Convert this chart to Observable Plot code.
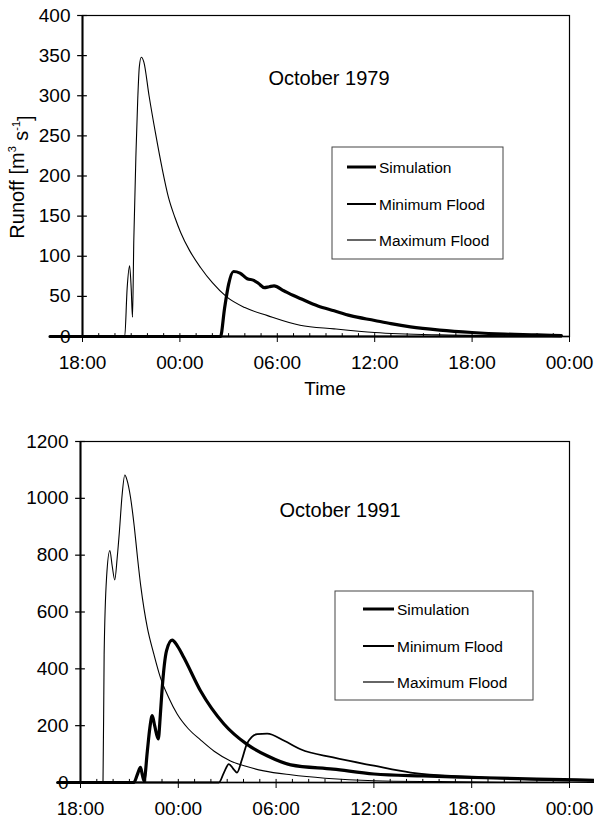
<!DOCTYPE html>
<html>
<head>
<meta charset="utf-8">
<script src="https://cdn.jsdelivr.net/npm/d3@7"></script>
<script src="https://cdn.jsdelivr.net/npm/@observablehq/plot@0.6"></script>
<style>
  html, body { margin: 0; padding: 0; background: #fff; }
  #wrap { position: relative; width: 594px; height: 821px; background: #fff; overflow: hidden; }
</style>
</head>
<body>
<div id="wrap"></div>
<script>
// ---------- data (hours after 18:00 of the first day) ----------
const xTickHours = [0, 6, 12, 18, 24, 30];
const xTickLabels = ["18:00", "00:00", "06:00", "12:00", "18:00", "00:00"];
const minorHours = d3.range(0, 31);

const seriesNames = ["Simulation", "Minimum Flood", "Maximum Flood"];

// October 1979
const yTicks79 = [0, 50, 100, 150, 200, 250, 300, 350, 400];
const sim79T = [-2, 8.5, 8.75, 9.0, 9.3, 9.7, 10.15, 10.55, 10.85, 11.2, 11.5, 11.8, 12.4, 13.0, 13.45, 14.5, 15.5, 16.5, 18, 19, 20.2, 22, 24, 26, 28, 29.5];
const sim79V = [0, 0, 35, 65, 81, 79, 72, 70, 66, 61, 62, 63, 57, 51, 47, 38, 32, 26, 20, 16, 12, 8, 5, 3, 2, 1];
const min79T = [-2, 6, 12, 18, 24, 29.5];
const min79V = [0, 0, 0, 0, 0, 0];
const max79T = [-2, 2.6, 2.75, 2.9, 3.0, 3.08, 3.16, 3.3, 3.4, 3.5, 3.62, 3.78, 4.1, 4.5, 4.9, 5.3, 5.7, 6.04, 6.6, 7.27, 8.0, 8.9, 10, 11.4, 13.4, 15.5, 18, 22, 26, 29.5];
const max79V = [0, 0, 60, 88, 60, 24, 120, 232, 294, 336, 348, 342, 300, 253, 210, 173, 148, 130, 107, 86, 67, 49, 36, 26, 14, 9.5, 5, 2, 1, 0.5];

// October 1991
const yTicks91 = [0, 200, 400, 600, 800, 1000, 1200];
const sim91T = [-1.4, 3.27, 3.5, 3.68, 3.8, 3.9, 4.1, 4.25, 4.4, 4.55, 4.77, 4.9, 5.0, 5.28, 5.62, 5.95, 6.34, 7.36, 8.8, 10.2, 11.45, 12.9, 15.5, 18, 21, 24, 28, 31.5];
const sim91V = [0, 0, 30, 53, 25, 6, 110, 190, 235, 200, 153, 240, 323, 464, 501, 480, 440, 323, 206, 135, 94, 62, 47, 30, 23, 18, 12, 8];
const min91T = [-1.4, 8.49, 8.8, 9.1, 9.35, 9.6, 9.9, 10.2, 10.5, 10.84, 11.45, 12.5, 13.5, 15.5, 18, 20.25, 24, 28, 31.5];
const min91V = [0, 0, 35, 65, 50, 35, 80, 135, 160, 170, 172, 147, 117, 88, 59, 35, 20, 10, 6];
const max91T = [-1.4, 1.38, 1.45, 1.6, 1.8, 1.95, 2.1, 2.25, 2.39, 2.55, 2.72, 2.85, 3.07, 3.3, 3.5, 3.7, 3.9, 4.1, 4.5, 4.9, 5.4, 5.93, 6.6, 7.36, 8.2, 9.2, 10.2, 11.25, 12.9, 15, 18, 22, 26, 31.5];
const max91V = [0, 0, 450, 722, 816, 760, 713, 790, 886, 1010, 1082, 1065, 1003, 900, 790, 690, 610, 545, 452, 370, 300, 241, 190, 150, 110, 76, 56, 41, 27, 15, 6, 3, 1, 0.5];

// ---------- drawing ----------
const FONT = "'Liberation Sans', Arial, Helvetica, sans-serif";
const widths = {"Simulation": 3.2, "Minimum Flood": 1.8, "Maximum Flood": 1.1};
const legendWidths = {"Simulation": 3, "Minimum Flood": 2, "Maximum Flood": 1.2};

function rows(ts, vs) { return ts.map((t, i) => ({t, v: vs[i]})); }

function chart(o) {
  const yMax = o.yTicks[o.yTicks.length - 1];
  const lineMarks = o.series.map(s =>
    Plot.line(s.data, {x: "t", y: "v", stroke: "black", strokeWidth: widths[s.name],
      curve: "monotone-x", strokeLinejoin: "round", strokeLinecap: "round"}));
  const svg = Plot.plot({
    width: 594, height: o.height,
    marginLeft: o.ml, marginRight: 25, marginTop: o.mt, marginBottom: o.mb,
    x: {type: "linear", domain: [0, 30]},
    y: {type: "linear", domain: [0, yMax]},
    style: {fontFamily: FONT, fontSize: "19px", color: "black", background: "transparent", overflow: "visible"},
    marks: [
      Plot.frame({stroke: "black", strokeWidth: 1.2}),
      Plot.axisY({ticks: o.yTicks, tickSize: 0, tickPadding: 12, label: null, tickFormat: d => String(d)}),
      Plot.ruleY(o.yTicks, {x1: -0.3, x2: 0.3, stroke: "black", strokeWidth: 1.2}),
      Plot.axisX({ticks: xTickHours, tickSize: 6, tickPadding: 13, label: null,
        tickFormat: d => xTickLabels[xTickHours.indexOf(d)]}),
      Plot.ruleX(minorHours, {y1: 0, y2: yMax * 0.009, stroke: "black", strokeWidth: 1}),
      Plot.ruleX([0], {stroke: "black", strokeWidth: 2}),
      Plot.ruleY([0], {stroke: "black", strokeWidth: 1.5}),
      ...lineMarks
    ]
  });
  svg.style.position = "absolute";
  svg.style.left = "0px";
  svg.style.top = o.top + "px";
  const g = d3.select(svg).append("g").attr("font-family", FONT).attr("fill", "black");
  g.append("text").attr("x", o.titleX).attr("y", o.titleY).attr("text-anchor", "middle")
    .attr("dominant-baseline", "central").attr("font-size", 20).text(o.title);
  // legend
  const L = o.legend;
  g.append("rect").attr("x", L.x).attr("y", L.y).attr("width", L.w).attr("height", L.h)
    .attr("fill", "white").attr("stroke", "#444").attr("stroke-width", 1);
  seriesNames.forEach((n, i) => {
    const yy = L.rows[i];
    g.append("line").attr("x1", L.lx1).attr("x2", L.lx2).attr("y1", yy).attr("y2", yy)
      .attr("stroke", "black").attr("stroke-width", legendWidths[n]);
    g.append("text").attr("x", L.tx).attr("y", yy).attr("text-anchor", "start")
      .attr("dominant-baseline", "central").attr("font-size", 15.5).text(n);
  });
  if (o.yLabel) {
    const t = g.append("text").attr("transform", `translate(17,${o.yLabelY}) rotate(-90)`)
      .attr("text-anchor", "middle").attr("dominant-baseline", "central").attr("font-size", 20);
    t.append("tspan").text("Runoff [m");
    t.append("tspan").attr("dy", "-0.45em").attr("font-size", 11).text("3");
    t.append("tspan").attr("dy", "0.45em").text(" s");
    t.append("tspan").attr("dy", "-0.45em").attr("font-size", 11).text("-1");
    t.append("tspan").attr("dy", "0.45em").text("]");
  }
  if (o.xLabel) {
    g.append("text").attr("x", 325).attr("y", o.xLabelY).attr("text-anchor", "middle")
      .attr("dominant-baseline", "central").attr("font-size", 19).text(o.xLabel);
  }
  return svg;
}

const wrap = document.getElementById("wrap");
wrap.appendChild(chart({
  top: 0, height: 400, mt: 15, mb: 64, ml: 82,
  yTicks: yTicks79,
  series: [
    {name: "Minimum Flood", data: rows(min79T, min79V)},
    {name: "Maximum Flood", data: rows(max79T, max79V)},
    {name: "Simulation", data: rows(sim79T, sim79V)}
  ],
  title: "October 1979", titleX: 329, titleY: 78,
  legend: {x: 332, y: 147, w: 171, h: 112, rows: [167, 204, 240], lx1: 347, lx2: 376, tx: 379},
  yLabel: true, yLabelY: 177,
  xLabel: "Time", xLabelY: 388
}));
wrap.appendChild(chart({
  top: 410, height: 411, mt: 31, mb: 39, ml: 80,
  yTicks: yTicks91,
  series: [
    {name: "Maximum Flood", data: rows(max91T, max91V)},
    {name: "Minimum Flood", data: rows(min91T, min91V)},
    {name: "Simulation", data: rows(sim91T, sim91V)}
  ],
  title: "October 1991", titleX: 340, titleY: 100,
  legend: {x: 335, y: 181, w: 198, h: 109, rows: [199, 236, 272], lx1: 363, lx2: 394, tx: 397},
  yLabel: false, xLabel: null
}));
</script>
</body>
</html>
